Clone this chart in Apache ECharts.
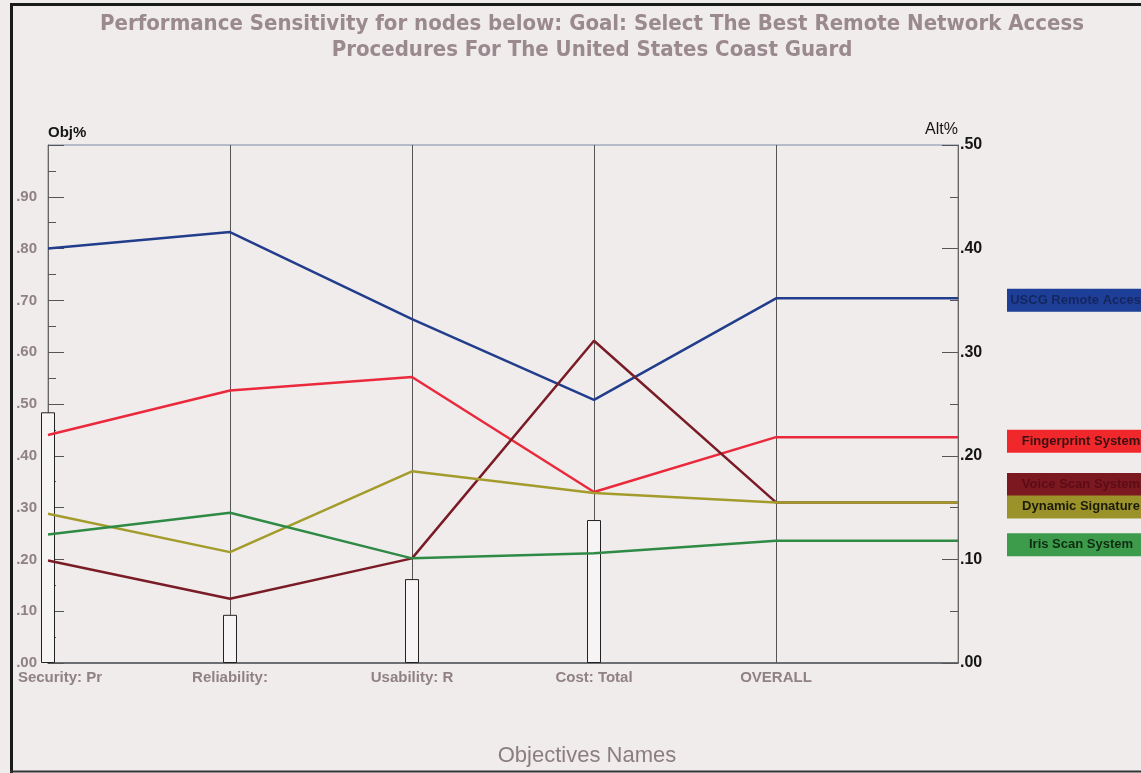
<!DOCTYPE html>
<html>
<head>
<meta charset="utf-8">
<script src="https://cdn.jsdelivr.net/npm/echarts@6/dist/echarts.min.js"></script>
<style>
html,body{margin:0;padding:0;background:#f0ecec;}
#chart{width:1141px;height:773px;}
</style>
</head>
<body>
<div id="chart"></div>
<script>
const titleLines = ['Performance Sensitivity for nodes below: Goal: Select The Best Remote Network Access', 'Procedures For The United States Coast Guard'];
const categories = ['Security: Pr', 'Reliability:', 'Usability: R', 'Cost: Total', 'OVERALL'];
const objWeights = [0.484, 0.093, 0.162, 0.276];
const seriesNames = ['USCG Remote Access Procedures', 'Fingerprint System', 'Voice Scan System', 'Dynamic Signature', 'Iris Scan System'];
const uscg = [0.400, 0.416, 0.332, 0.254, 0.352];
const fingerprint = [0.220, 0.263, 0.276, 0.165, 0.218];
const voiceScan = [0.099, 0.062, 0.101, 0.311, 0.155];
const dynamicSig = [0.144, 0.107, 0.185, 0.164, 0.155];
const irisScan = [0.124, 0.145, 0.101, 0.106, 0.118];
const objTicks = [0, 0.1, 0.2, 0.3, 0.4, 0.5, 0.6, 0.7, 0.8, 0.9, 1.0];
const altTicks = [0, 0.1, 0.2, 0.3, 0.4, 0.5];

const lineColors = ['#213d8c', '#ea2a3c', '#7a1c26', '#a39c2c', '#2f8a46'];
const boxColors = ['#1e3f98', '#f0282c', '#7c1820', '#9b932a', '#3c9c4c'];
const boxText = ['#15265e', '#3a1010', '#5c0c14', '#1c1a0a', '#102c12'];
const labelDy = [2, 4, -18, 4.5, 4];
const allValues = [uscg, fingerprint, voiceScan, dynamicSig, irisScan];

const SANS = '"Liberation Sans", Arial, sans-serif';
const fmt = v => '.' + String(Math.round(v * 100)).padStart(2, '0');

const chart = echarts.init(document.getElementById('chart'));
const lineSeries = allValues.map((vals, i) => ({
  type: 'line',
  name: seriesNames[i],
  yAxisIndex: 1,
  data: vals.concat([vals[vals.length - 1]]),
  symbol: 'none',
  lineStyle: { color: lineColors[i], width: 2.5 },
  itemStyle: { color: lineColors[i] },
  z: 3 + i,
  endLabel: {
    show: true,
    distance: 0,
    offset: [49, labelDy[i]],
    formatter: p => '{t|' + p.seriesName + '}',
    width: 148,
    height: 23,
    overflow: 'truncate',
    ellipsis: '',
    backgroundColor: boxColors[i],
    rich: { t: { align: 'center', color: boxText[i], fontWeight: 'bold', fontSize: 13, fontFamily: SANS, lineHeight: 23 } }
  }
}));

chart.setOption({
  backgroundColor: '#f0ecec',
  animation: false,
  title: {
    text: titleLines.join('\n'),
    left: 587,
    textAlign: 'center',
    top: 6,
    textStyle: { fontSize: 22, fontWeight: 'bold', color: '#9a898e', lineHeight: 26, fontFamily: '"DejaVu Sans Condensed", "DejaVu Sans", sans-serif' }
  },
  grid: { left: 48, right: 183, top: 145, bottom: 110, show: true, borderColor: '#7d8aa8', borderWidth: 1, backgroundColor: 'transparent' },
  xAxis: {
    type: 'category',
    data: categories.concat(['']),
    boundaryGap: false,
    axisLine: { lineStyle: { color: '#555', width: 1.5 } },
    axisTick: { show: false },
    splitLine: { show: true, lineStyle: { color: '#555', width: 1 } },
    axisLabel: {
      interval: 0,
      margin: 7,
      color: '#8f8185',
      fontWeight: 'bold',
      fontSize: 15,
      fontFamily: SANS,
      formatter: (v, idx) => idx === 0 ? '{f|' + v + '}' : v,
      rich: { f: { padding: [0, 0, 0, 24], color: '#8f8185', fontWeight: 'bold', fontSize: 15, fontFamily: SANS } }
    },
    name: 'Objectives Names',
    nameLocation: 'middle',
    nameGap: 82,
    nameTextStyle: { fontSize: 22, color: '#8a7e82', fontFamily: SANS, padding: [0, 0, 0, 168] }
  },
  yAxis: [
    {
      type: 'value',
      min: objTicks[0],
      max: objTicks[objTicks.length - 1],
      interval: 0.1,
      position: 'left',
      axisLine: { show: true, lineStyle: { color: '#666' } },
      axisTick: { show: true, inside: true, length: 16, lineStyle: { color: '#555' } },
      minorTick: { show: true, splitNumber: 2, length: 8, lineStyle: { color: '#555' } },
      splitLine: { show: false },
      axisLabel: {
        margin: 11,
        color: '#8f8185',
        fontWeight: 'bold',
        fontSize: 15,
        fontFamily: SANS,
        formatter: v => v >= 0.999 ? '' : fmt(v)
      },
      name: 'Obj%',
      nameLocation: 'end',
      nameGap: 5,
      nameTextStyle: { align: 'left', color: '#151515', fontWeight: 'bold', fontSize: 15, fontFamily: SANS }
    },
    {
      type: 'value',
      min: altTicks[0],
      max: altTicks[altTicks.length - 1],
      interval: 0.1,
      position: 'right',
      axisLine: { show: true, lineStyle: { color: '#666' } },
      axisTick: { show: true, inside: true, length: 16, lineStyle: { color: '#555' } },
      minorTick: { show: true, splitNumber: 2, length: 8, lineStyle: { color: '#555' } },
      splitLine: { show: false },
      axisLabel: {
        margin: 2,
        color: '#151515',
        fontWeight: 'bold',
        fontSize: 16,
        fontFamily: SANS,
        formatter: v => fmt(v)
      },
      name: 'Alt%',
      nameLocation: 'end',
      nameGap: 5,
      nameTextStyle: { align: 'right', color: '#151515', fontSize: 16, fontFamily: SANS }
    }
  ],
  series: [
    {
      type: 'bar',
      name: 'Objective Weight',
      yAxisIndex: 0,
      data: objWeights.concat([null, null]),
      barWidth: 14,
      itemStyle: { color: '#f6f4f4', borderColor: '#222', borderWidth: 1 },
      z: 2
    }
  ].concat(lineSeries),
  graphic: [
    { type: 'line', shape: { x1: 11.5, y1: 3, x2: 11.5, y2: 773 }, style: { stroke: '#1a1a1a', lineWidth: 3 }, z: 100 },
    { type: 'line', shape: { x1: 10, y1: 4.5, x2: 1141, y2: 4.5 }, style: { stroke: '#1a1a1a', lineWidth: 3 }, z: 100 },
    { type: 'line', shape: { x1: 10, y1: 771.5, x2: 1141, y2: 771.5 }, style: { stroke: '#333', lineWidth: 2 }, z: 100 }
  ]
});
</script>
</body>
</html>
